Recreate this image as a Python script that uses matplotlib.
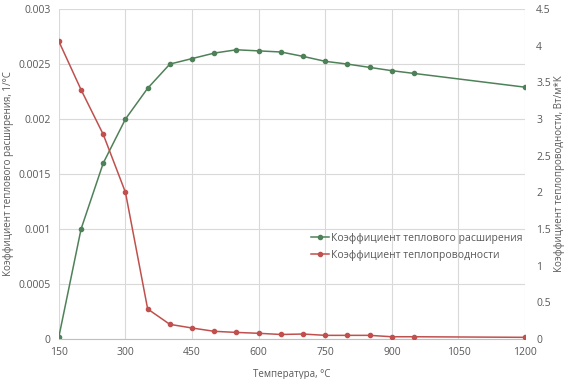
import matplotlib
matplotlib.use("Agg")
import matplotlib.pyplot as plt

plt.rcParams['font.family'] = ['Open Sans', 'DejaVu Sans']

# Данные
temps = [150, 200, 250, 300, 350, 400, 450, 500, 550, 600, 650, 700,
         750, 800, 850, 900, 950, 1200]
expansion = [0.00002, 0.001, 0.0016, 0.002, 0.00228, 0.0025, 0.00255,
             0.0026, 0.00263, 0.00262, 0.00261, 0.00257, 0.002525,
             0.0025, 0.00247, 0.00244, 0.002415, 0.00229]
conductivity = [4.06, 3.4, 2.79, 2.0, 0.41, 0.2, 0.15, 0.105, 0.09,
                0.078, 0.062, 0.068, 0.05, 0.05, 0.05, 0.031, 0.031, 0.023]

x_ticks = [150, 300, 450, 600, 750, 900, 1050, 1200]
left_ticks = [0, 0.0005, 0.001, 0.0015, 0.002, 0.0025, 0.003]
left_labels = ['0', '0.0005', '0.001', '0.0015', '0.002', '0.0025', '0.003']
right_ticks = [0, 0.5, 1, 1.5, 2, 2.5, 3, 3.5, 4, 4.5]
right_labels = ['0', '0.5', '1', '1.5', '2', '2.5', '3', '3.5', '4', '4.5']

green = '#4f8159'
red = '#c0504d'
text_color = '#595959'
grid_color = '#d9d9d9'

fig = plt.figure(figsize=(5.66, 3.79), dpi=100)
ax = fig.add_axes([0.104, 0.1055, 0.8236, 0.8705])
ax2 = ax.twinx()

l1, = ax.plot(temps, expansion, color=green, lw=1.1, marker='o',
              markersize=3, label='Коэффициент теплового расширения')
l2, = ax2.plot(temps, conductivity, color=red, lw=1.1, marker='o',
               markersize=3, label='Коэффициент теплопроводности')

ax.set_xlim(150, 1200)
ax.set_ylim(0, 0.003)
ax2.set_ylim(0, 4.5)

ax.set_xticks(x_ticks)
ax.set_yticks(left_ticks)
ax.set_yticklabels(left_labels)
ax2.set_yticks(right_ticks)
ax2.set_yticklabels(right_labels)

ax.grid(True, color=grid_color, lw=0.8)
ax.set_axisbelow(True)

for a in (ax, ax2):
    for s in a.spines.values():
        s.set_visible(False)
    a.tick_params(length=0, labelsize=7.5, colors=text_color)
ax.spines['bottom'].set_visible(True)
ax.spines['bottom'].set_color('#bfbfbf')
ax.tick_params(axis='x', pad=6)
ax.tick_params(axis='y', pad=6)
ax2.tick_params(axis='y', pad=8)

ax.set_xlabel('Температура, °C', fontsize=7, color=text_color)
ax.set_ylabel('Коэффициент теплового расширения, 1/°C', fontsize=7,
              color=text_color, va='center')
ax2.set_ylabel('Коэффициент теплопроводности, Вт/м*К', fontsize=7,
               color=text_color, rotation=90, va='center')
ax.xaxis.set_label_coords(0.5, -0.09)
ax.yaxis.set_label_coords(-0.109, 0.5)
ax2.yaxis.set_label_coords(1.073, 0.5)

leg = ax2.legend(handles=[l1, l2], loc='center left',
                 bbox_to_anchor=(0.52, 0.279), frameon=False, fontsize=7.5,
                 handlelength=1.8, handletextpad=0.2, labelspacing=0.6)
for t in leg.get_texts():
    t.set_color(text_color)

fig.savefig('out.png', dpi=100)
